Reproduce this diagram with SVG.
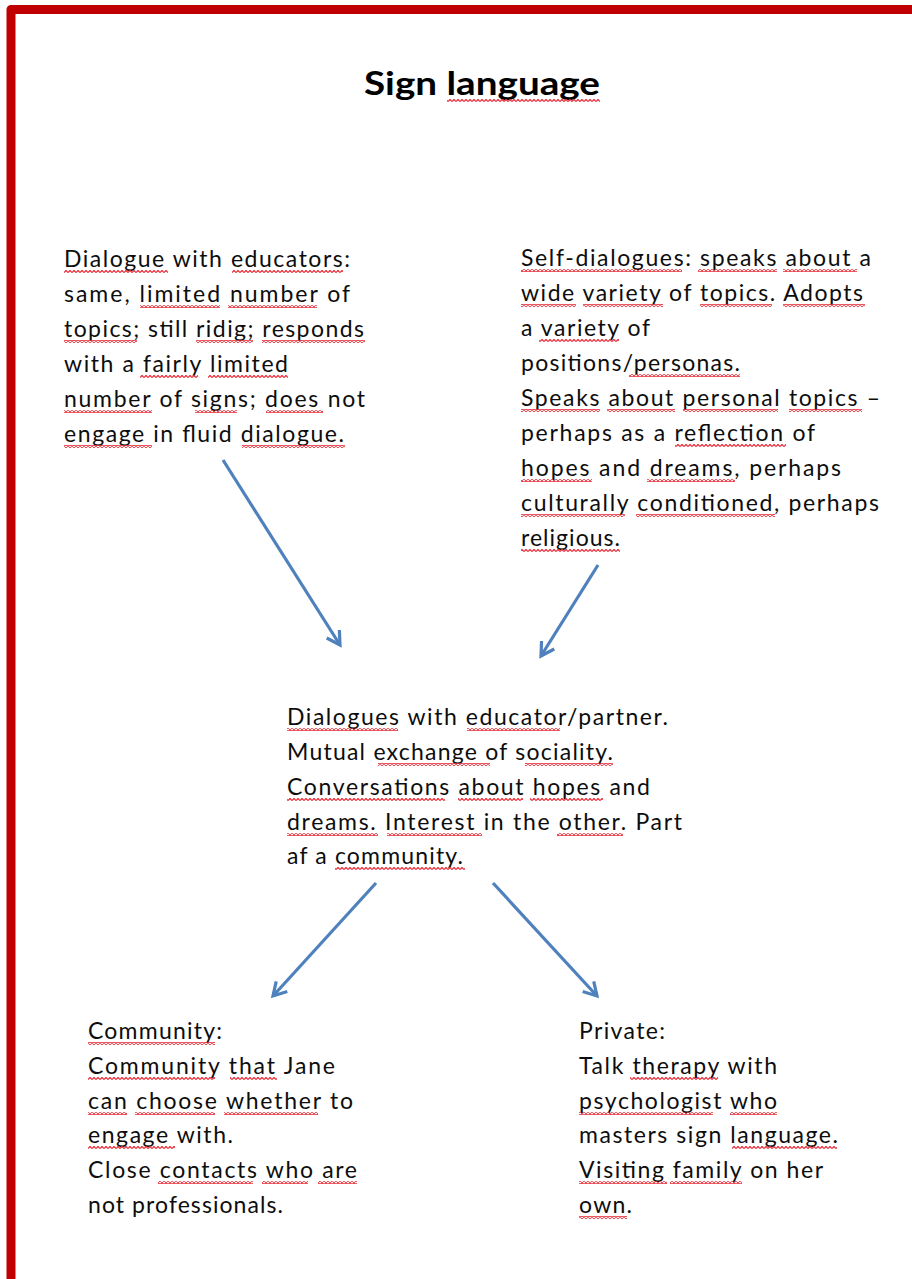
<svg xmlns="http://www.w3.org/2000/svg" width="912" height="1279" viewBox="0 0 912 1279">
<style>
.t{font-family:Lato,"Liberation Sans",sans-serif;font-size:23px;fill:#0d0d0d;}
.title{font-family:Lato,"Liberation Sans",sans-serif;font-size:33px;font-weight:bold;fill:#000;}
.sq{fill:url(#wave);}
.arr{stroke:#4F81BD;stroke-width:3.2;fill:none;marker-end:url(#ah);}
</style>
<defs>
<pattern id="wave" patternUnits="userSpaceOnUse" x="0" y="0" width="4" height="3">
<path d="M0,2.6 L2,0.4 L4,2.6" fill="none" stroke="#E8323C" stroke-width="1.3"/>
</pattern>
<marker id="ah" markerUnits="userSpaceOnUse" viewBox="-16 -10 20 20" markerWidth="20" markerHeight="20" refX="0" refY="0" orient="auto" overflow="visible">
<path d="M-13,-7.5 L0,0 L-13,7.5" fill="none" stroke="#4F81BD" stroke-width="3.2"/>
</marker>
</defs>
<rect width="912" height="1279" fill="#fff"/>
<path d="M11 1285 V9.5 H920" fill="none" stroke="#C00000" stroke-width="9" stroke-linejoin="round"/>
<g id="title">
<text class="title" x="364" y="95" textLength="236" lengthAdjust="spacingAndGlyphs">Sign <tspan>language</tspan></text>
<rect class="sq" x="447" y="99" width="153" height="3"/>
</g>
<g id="educators">
<text class="t" x="64" y="267" textLength="286" lengthAdjust="spacing"><tspan>Dialogue</tspan> with <tspan>educators:</tspan></text>
<text class="t" x="64" y="302" textLength="286" lengthAdjust="spacing">same, <tspan>limited</tspan> <tspan>number</tspan> of</text>
<text class="t" x="64" y="337" textLength="300" lengthAdjust="spacing"><tspan>topics;</tspan> still <tspan>ridig;</tspan> <tspan>responds</tspan></text>
<text class="t" x="64" y="372" textLength="224" lengthAdjust="spacing">with a <tspan>fairly</tspan> <tspan>limited</tspan></text>
<text class="t" x="64" y="407" textLength="301" lengthAdjust="spacing"><tspan>number</tspan> of <tspan>signs;</tspan> <tspan>does</tspan> not</text>
<text class="t" x="64" y="442" textLength="280" lengthAdjust="spacing"><tspan>engage</tspan> in fluid <tspan>dialogue.</tspan></text>
<rect class="sq" x="64" y="270" width="104" height="3"/><rect class="sq" x="232" y="270" width="111" height="3"/>
<rect class="sq" x="140" y="305" width="80" height="3"/><rect class="sq" x="228" y="305" width="89" height="3"/>
<rect class="sq" x="64" y="340" width="73" height="3"/><rect class="sq" x="196" y="340" width="57" height="3"/><rect class="sq" x="262" y="340" width="103" height="3"/>
<rect class="sq" x="140" y="375" width="58" height="3"/><rect class="sq" x="208" y="375" width="80" height="3"/>
<rect class="sq" x="64" y="410" width="88" height="3"/><rect class="sq" x="195" y="410" width="42" height="3"/><rect class="sq" x="266" y="410" width="57" height="3"/>
<rect class="sq" x="64" y="445" width="88" height="3"/><rect class="sq" x="242" y="445" width="103" height="3"/>
</g>
<g id="self">
<text class="t" x="521" y="266" textLength="350" lengthAdjust="spacing"><tspan>Self-dialogues:</tspan> <tspan>speaks</tspan> <tspan>about</tspan> a</text>
<text class="t" x="521" y="301" textLength="342" lengthAdjust="spacing"><tspan>wide</tspan> <tspan>variety</tspan> of <tspan>topics.</tspan> <tspan>Adopts</tspan></text>
<text class="t" x="521" y="336" textLength="129" lengthAdjust="spacing">a <tspan>variety</tspan> of</text>
<text class="t" x="521" y="371" textLength="219" lengthAdjust="spacing">positions/<tspan>personas.</tspan></text>
<text class="t" x="521" y="406" textLength="359" lengthAdjust="spacing"><tspan>Speaks</tspan> <tspan>about</tspan> <tspan>personal</tspan> <tspan>topics</tspan> –</text>
<text class="t" x="521" y="441" textLength="294" lengthAdjust="spacing">perhaps as a <tspan>reflection</tspan> of</text>
<text class="t" x="521" y="476" textLength="320" lengthAdjust="spacing"><tspan>hopes</tspan> and <tspan>dreams,</tspan> perhaps</text>
<text class="t" x="521" y="511" textLength="358" lengthAdjust="spacing"><tspan>culturally</tspan> <tspan>conditioned,</tspan> perhaps</text>
<text class="t" x="521" y="546" textLength="99" lengthAdjust="spacing"><tspan>religious.</tspan></text>
<rect class="sq" x="521" y="269" width="161" height="3"/><rect class="sq" x="698" y="269" width="79" height="3"/><rect class="sq" x="783" y="269" width="74" height="3"/>
<rect class="sq" x="521" y="304" width="55" height="3"/><rect class="sq" x="583" y="304" width="80" height="3"/><rect class="sq" x="700" y="304" width="72" height="3"/><rect class="sq" x="783" y="304" width="82" height="3"/>
<rect class="sq" x="539" y="339" width="80" height="3"/>
<rect class="sq" x="629" y="374" width="111" height="3"/>
<rect class="sq" x="521" y="409" width="79" height="3"/><rect class="sq" x="607" y="409" width="68" height="3"/><rect class="sq" x="683" y="409" width="95" height="3"/><rect class="sq" x="789" y="409" width="73" height="3"/>
<rect class="sq" x="675" y="444" width="111" height="3"/>
<rect class="sq" x="521" y="479" width="71" height="3"/><rect class="sq" x="647" y="479" width="88" height="3"/>
<rect class="sq" x="521" y="514" width="104" height="3"/><rect class="sq" x="636" y="514" width="139" height="3"/>
<rect class="sq" x="521" y="549" width="99" height="3"/>
</g>
<g id="partner">
<text class="t" x="287" y="725" textLength="381" lengthAdjust="spacing"><tspan>Dialogues</tspan> with <tspan>educator</tspan>/partner.</text>
<text class="t" x="287" y="760" textLength="326" lengthAdjust="spacing">Mutual <tspan>exchange</tspan> of <tspan>sociality.</tspan></text>
<text class="t" x="287" y="795" textLength="363" lengthAdjust="spacing"><tspan>Conversations</tspan> <tspan>about</tspan> <tspan>hopes</tspan> and</text>
<text class="t" x="287" y="830" textLength="395" lengthAdjust="spacing"><tspan>dreams.</tspan> <tspan>Interest</tspan> in the <tspan>other.</tspan> Part</text>
<text class="t" x="287" y="864" textLength="176" lengthAdjust="spacing">af a <tspan>community.</tspan></text>
<rect class="sq" x="287" y="728" width="111" height="3"/><rect class="sq" x="467" y="728" width="93" height="3"/>
<rect class="sq" x="378" y="763" width="112" height="3"/><rect class="sq" x="525" y="763" width="88" height="3"/>
<rect class="sq" x="287" y="798" width="158" height="3"/><rect class="sq" x="458" y="798" width="65" height="3"/><rect class="sq" x="530" y="798" width="73" height="3"/>
<rect class="sq" x="287" y="833" width="91" height="3"/><rect class="sq" x="387" y="833" width="95" height="3"/><rect class="sq" x="557" y="833" width="66" height="3"/>
<rect class="sq" x="335" y="867" width="130" height="3"/>
</g>
<g id="community">
<text class="t" x="88" y="1039" textLength="134" lengthAdjust="spacing"><tspan>Community:</tspan></text>
<text class="t" x="88" y="1074" textLength="247" lengthAdjust="spacing"><tspan>Community</tspan> <tspan>that</tspan> Jane</text>
<text class="t" x="88" y="1109" textLength="265" lengthAdjust="spacing"><tspan>can</tspan> <tspan>choose</tspan> <tspan>whether</tspan> to</text>
<text class="t" x="88" y="1143" textLength="145" lengthAdjust="spacing"><tspan>engage</tspan> with.</text>
<text class="t" x="88" y="1178" textLength="269" lengthAdjust="spacing">Close <tspan>contacts</tspan> <tspan>who</tspan> <tspan>are</tspan></text>
<text class="t" x="88" y="1213" textLength="195" lengthAdjust="spacing">not professionals.</text>
<rect class="sq" x="88" y="1042" width="127" height="3"/>
<rect class="sq" x="88" y="1077" width="127" height="3"/><rect class="sq" x="230" y="1077" width="47" height="3"/>
<rect class="sq" x="88" y="1112" width="39" height="3"/><rect class="sq" x="135" y="1112" width="80" height="3"/><rect class="sq" x="224" y="1112" width="94" height="3"/>
<rect class="sq" x="88" y="1146" width="87" height="3"/>
<rect class="sq" x="158" y="1181" width="95" height="3"/><rect class="sq" x="262" y="1181" width="46" height="3"/><rect class="sq" x="318" y="1181" width="39" height="3"/>
</g>
<g id="private">
<text class="t" x="579" y="1039" textLength="86" lengthAdjust="spacing">Private:</text>
<text class="t" x="579" y="1074" textLength="198" lengthAdjust="spacing">Talk <tspan>therapy</tspan> with</text>
<text class="t" x="579" y="1109" textLength="198" lengthAdjust="spacing"><tspan>psychologist</tspan> <tspan>who</tspan></text>
<text class="t" x="579" y="1143" textLength="259" lengthAdjust="spacing">masters sign <tspan>language.</tspan></text>
<text class="t" x="579" y="1178" textLength="244" lengthAdjust="spacing"><tspan>Visiting</tspan> <tspan>family</tspan> on her</text>
<text class="t" x="579" y="1213" textLength="53" lengthAdjust="spacing"><tspan>own.</tspan></text>
<rect class="sq" x="630" y="1077" width="88" height="3"/>
<rect class="sq" x="579" y="1112" width="134" height="3"/><rect class="sq" x="730" y="1112" width="47" height="3"/>
<rect class="sq" x="732" y="1146" width="105" height="3"/>
<rect class="sq" x="579" y="1181" width="88" height="3"/><rect class="sq" x="670" y="1181" width="72" height="3"/>
<rect class="sq" x="579" y="1216" width="48" height="3"/>
</g>
<g id="connectors">
<line class="arr" x1="223" y1="460" x2="340" y2="645"/>
<line class="arr" x1="598" y1="565" x2="541" y2="656"/>
<line class="arr" x1="376" y1="883" x2="273" y2="996"/>
<line class="arr" x1="493" y1="883" x2="597" y2="996"/>
</g>
</svg>
